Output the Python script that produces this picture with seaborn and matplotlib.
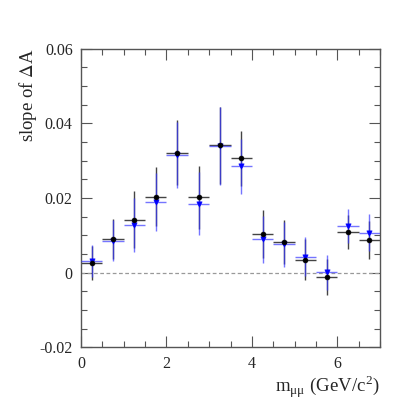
import numpy as np
import matplotlib
matplotlib.use("Agg")
import matplotlib.pyplot as plt
import seaborn as sns
from matplotlib.ticker import MultipleLocator

# bin centres in m_mumu (GeV/c^2), bin half-width 0.25
mass = [0.25, 0.75, 1.25, 1.75, 2.25, 2.75, 3.25, 3.75, 4.25, 4.75, 5.25, 5.75, 6.25, 6.75]
half_width = 0.25

# black circles
slope_a = [0.0025, 0.0090, 0.0142, 0.0204, 0.0322, 0.0202, 0.0341, 0.0307,
           0.0104, 0.0082, 0.0035, -0.0011, 0.0108, 0.0088]
err_a = [0.0045, 0.0054, 0.0076, 0.0078, 0.0088, 0.0085, 0.0104, 0.0074,
         0.0064, 0.0060, 0.0054, 0.0048, 0.0046, 0.0051]

# blue triangles
slope_b = [0.0032, 0.0086, 0.0128, 0.0189, 0.0316, 0.0185, 0.0340, 0.0285,
           0.0089, 0.0076, 0.0043, 0.0001, 0.0125, 0.0107]
err_b = [0.0043, 0.0054, 0.0073, 0.0077, 0.0088, 0.0085, 0.0104, 0.0074,
         0.0062, 0.0060, 0.0052, 0.0047, 0.0046, 0.0050]

sns.set_style("ticks")
plt.rcParams['font.family'] = ['Liberation Serif', 'DejaVu Serif']
plt.rcParams['mathtext.fontset'] = 'stix'

fig = plt.figure(figsize=(4.07, 4.07), dpi=100)
ax = fig.add_axes([0.199, 0.147, 0.735, 0.733])

ax.axhline(0, color='#999999', lw=0.9, ls=(0, (3, 2)), zorder=1)

ax.errorbar(mass, slope_a, xerr=half_width, yerr=err_a, fmt='none',
            ecolor='#444444', elinewidth=1.0, capsize=0, zorder=2)
ax.errorbar(mass, slope_b, xerr=half_width, yerr=err_b, fmt='none',
            ecolor='#3a3aff', elinewidth=1.0, capsize=0, alpha=0.7, zorder=3)

sns.scatterplot(x=mass, y=slope_b, marker='v', color='blue', s=14,
                edgecolor='blue', linewidth=0.5, ax=ax, zorder=4)
sns.scatterplot(x=mass, y=slope_a, marker='o', color='black', s=12,
                edgecolor='black', linewidth=0.5, ax=ax, zorder=5)

ax.set_xlim(0, 7)
ax.set_ylim(-0.02, 0.06)
ax.xaxis.set_major_locator(MultipleLocator(2))
ax.xaxis.set_minor_locator(MultipleLocator(0.5))
ax.yaxis.set_major_locator(MultipleLocator(0.02))
ax.yaxis.set_minor_locator(MultipleLocator(0.005))
ax.set_yticks([-0.02, 0, 0.02, 0.04, 0.06])
ax.set_yticklabels(['-0.02', '0', '0.02', '0.04', '0.06'])
ax.set_xticks([0, 2, 4, 6])
ax.set_xticklabels(['0', '2', '4', '6'])

ax.tick_params(which='both', direction='in', top=True, right=True,
               color='#555555', labelsize=11.5, pad=6)
ax.tick_params(which='major', length=8, width=0.8)
ax.tick_params(which='minor', length=4, width=0.8)
for s in ax.spines.values():
    s.set_color('#555555')
    s.set_linewidth(1.0)

ax.set_ylabel(r'slope of $\Delta$A', fontsize=13.5, loc='top', labelpad=0)
ax.set_xlabel(r'm$_{\mathregular{μμ}}$ (GeV/c$^{\mathregular{2}}$)', fontsize=13.5,
              loc='right', labelpad=2)

fig.savefig('out.png', dpi=100)
